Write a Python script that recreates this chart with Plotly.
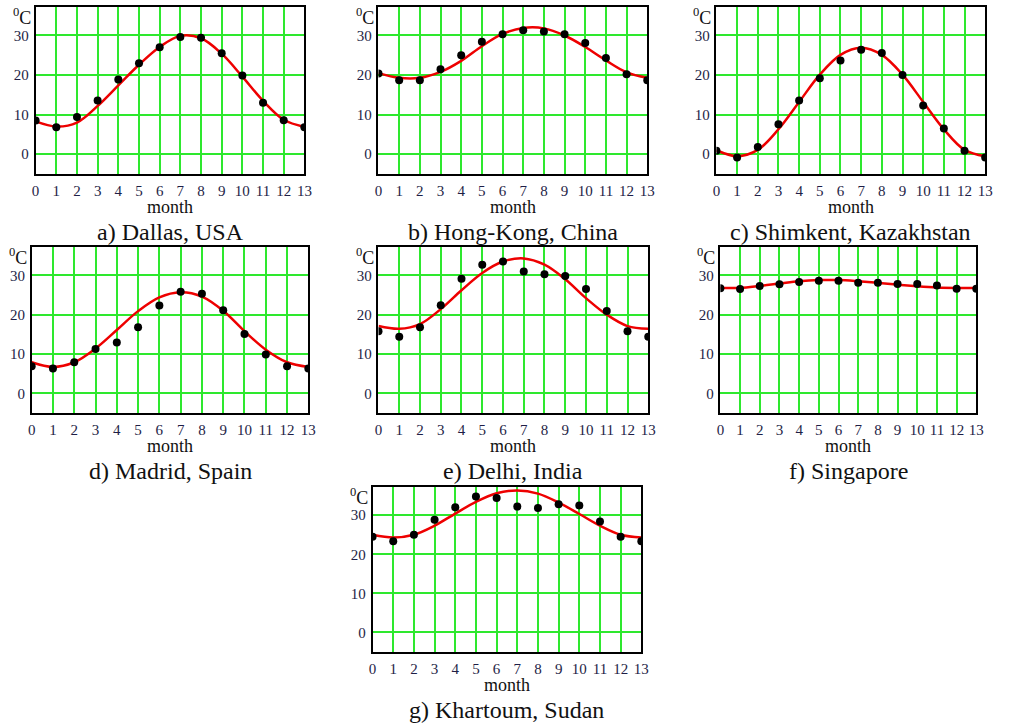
import plotly.graph_objects as go

W, H = 1010, 723

months = list(range(14))
x_tick_labels = [str(m) for m in months]
y_tick_values = [0, 10, 20, 30]
y_tick_labels = ["0", "10", "20", "30"]

captions = ["a) Dallas, USA", "b) Hong-Kong, China", "c) Shimkent, Kazakhstan",
            "d) Madrid, Spain", "e) Delhi, India", "f) Singapore", "g) Khartoum, Sudan"]

dallas_obs = [8.5, 6.8, 9.4, 13.6, 18.9, 23.0, 27.0, 29.6, 29.4, 25.5, 19.9, 13.0, 8.6, 6.8]
dallas_fit = [8.3, 7.0, 8.0, 12.2, 17.4, 22.6, 27.1, 29.9, 29.3, 25.4, 19.6, 13.5, 8.7, 6.9]

hk_obs = [20.4, 18.7, 18.7, 21.5, 25.0, 28.4, 30.3, 31.3, 31.0, 30.3, 28.1, 24.3, 20.2, 18.7]
hk_fit = [20.5, 19.3, 19.3, 20.8, 23.6, 27.3, 30.4, 31.9, 31.8, 30.0, 27.1, 23.7, 20.7, 19.3]

shimkent_obs = [0.9, -0.8, 1.8, 7.6, 13.6, 19.2, 23.7, 26.4, 25.6, 20.0, 12.3, 6.5, 0.9, -0.8]
shimkent_fit = [1.0, -0.5, 1.1, 6.3, 13.2, 20.1, 25.1, 26.9, 25.1, 20.1, 13.2, 6.3, 1.1, -0.5]

madrid_obs = [6.9, 6.3, 7.9, 11.3, 12.9, 16.8, 22.3, 25.8, 25.3, 21.1, 15.1, 9.9, 6.9, 6.3]
madrid_fit = [7.9, 6.7, 7.9, 11.4, 16.1, 20.9, 24.4, 25.7, 24.6, 21.0, 15.8, 11.1, 7.9, 6.7]

delhi_obs = [15.8, 14.4, 16.8, 22.4, 29.1, 32.7, 33.5, 31.0, 30.3, 29.8, 26.5, 20.9, 15.8, 14.4]
delhi_fit = [17.1, 16.4, 17.6, 21.4, 26.2, 30.6, 33.5, 34.3, 32.7, 29.0, 24.2, 20.0, 17.1, 16.4]

singapore_obs = [26.7, 26.5, 27.3, 27.7, 28.3, 28.6, 28.6, 28.1, 28.1, 27.8, 27.8, 27.4, 26.6, 26.6]
singapore_fit = [26.8, 26.8, 27.3, 27.9, 28.5, 28.8, 28.8, 28.5, 28.1, 27.6, 27.2, 26.9, 26.8, 26.8]

khartoum_obs = [24.5, 23.3, 25.0, 28.8, 32.0, 34.8, 34.4, 32.2, 31.8, 32.8, 32.5, 28.4, 24.5, 23.3]
khartoum_fit = [25.0, 24.3, 25.0, 27.3, 30.4, 33.4, 35.6, 36.3, 35.5, 33.2, 30.3, 27.3, 25.0, 24.3]

observed = [dallas_obs, hk_obs, shimkent_obs, madrid_obs, delhi_obs, singapore_obs, khartoum_obs]
fitted = [dallas_fit, hk_fit, shimkent_fit, madrid_fit, delhi_fit, singapore_fit, khartoum_fit]

# panel boxes in pixels: left, right, top, bottom
boxes = [
    (32, 304, 7, 174),
    (379, 651, 7, 174),
    (721, 993, 7, 174),
    (28, 308, 247, 413),
    (379, 652, 247, 413),
    (725, 984, 247, 413),
    (373, 645, 487, 652),
]

SERIF = "Liberation Serif, Times New Roman, serif"
TICK_COLOR = "#1e1e46"
GRID = "#2ee82e"

fig = go.Figure()
annotations = []
layout = {}

for i, (l, r, t, b) in enumerate(boxes):
    n = "" if i == 0 else str(i + 1)
    xa, ya = "x" + n, "y" + n
    fig.add_trace(go.Scatter(x=months, y=fitted[i], mode="lines",
                             line=dict(color="#ee0000", width=2.5, shape="spline", smoothing=1.0),
                             xaxis=xa, yaxis=ya, showlegend=False, hoverinfo="skip"))
    fig.add_trace(go.Scatter(x=months, y=observed[i], mode="markers",
                             marker=dict(color="black", size=8),
                             xaxis=xa, yaxis=ya, showlegend=False))
    layout["xaxis" + n] = dict(
        domain=[l / W, r / W], anchor=ya, range=[0, 13],
        tickmode="array", tickvals=months, ticktext=x_tick_labels,
        showgrid=True, gridcolor=GRID, gridwidth=1.5, zeroline=False,
        showline=True, linecolor="black", linewidth=1.5, mirror=True,
        ticks="", tickfont=dict(family=SERIF, size=15, color=TICK_COLOR),
        ticklabelstandoff=2, fixedrange=True,
    )
    layout["yaxis" + n] = dict(
        domain=[1 - b / H, 1 - t / H], anchor=xa, range=[-5, 37.2],
        tickmode="array", tickvals=y_tick_values, ticktext=y_tick_labels,
        showgrid=True, gridcolor=GRID, gridwidth=1.5, zeroline=False,
        showline=True, linecolor="black", linewidth=1.5, mirror=True,
        ticks="", tickfont=dict(family=SERIF, size=15, color=TICK_COLOR),
        ticklabelstandoff=2, fixedrange=True,
    )
    cx = (l + r) / 2 / W
    annotations.append(dict(text="month", x=cx, y=1 - (b + 33) / H, xref="paper", yref="paper",
                            xanchor="center", yanchor="middle", showarrow=False,
                            font=dict(family=SERIF, size=18, color="#111111")))
    annotations.append(dict(text=captions[i], x=cx, y=1 - (b + 58) / H, xref="paper", yref="paper",
                            xanchor="center", yanchor="middle", showarrow=False,
                            font=dict(family=SERIF, size=24, color="#111111")))
    annotations.append(dict(text="<sup>0</sup>C", x=(l - 3) / W, y=1 - (t + 9) / H,
                            xref="paper", yref="paper", xanchor="right", yanchor="middle",
                            showarrow=False, font=dict(family=SERIF, size=18, color="#111111")))

fig.update_layout(
    width=W, height=H, margin=dict(l=0, r=0, t=0, b=0),
    paper_bgcolor="white", plot_bgcolor="white",
    annotations=annotations, **layout,
)

fig.write_html("out.html", config={"displayModeBar": False},
               post_script="document.body.style.margin='0';document.body.style.overflow='hidden';")
